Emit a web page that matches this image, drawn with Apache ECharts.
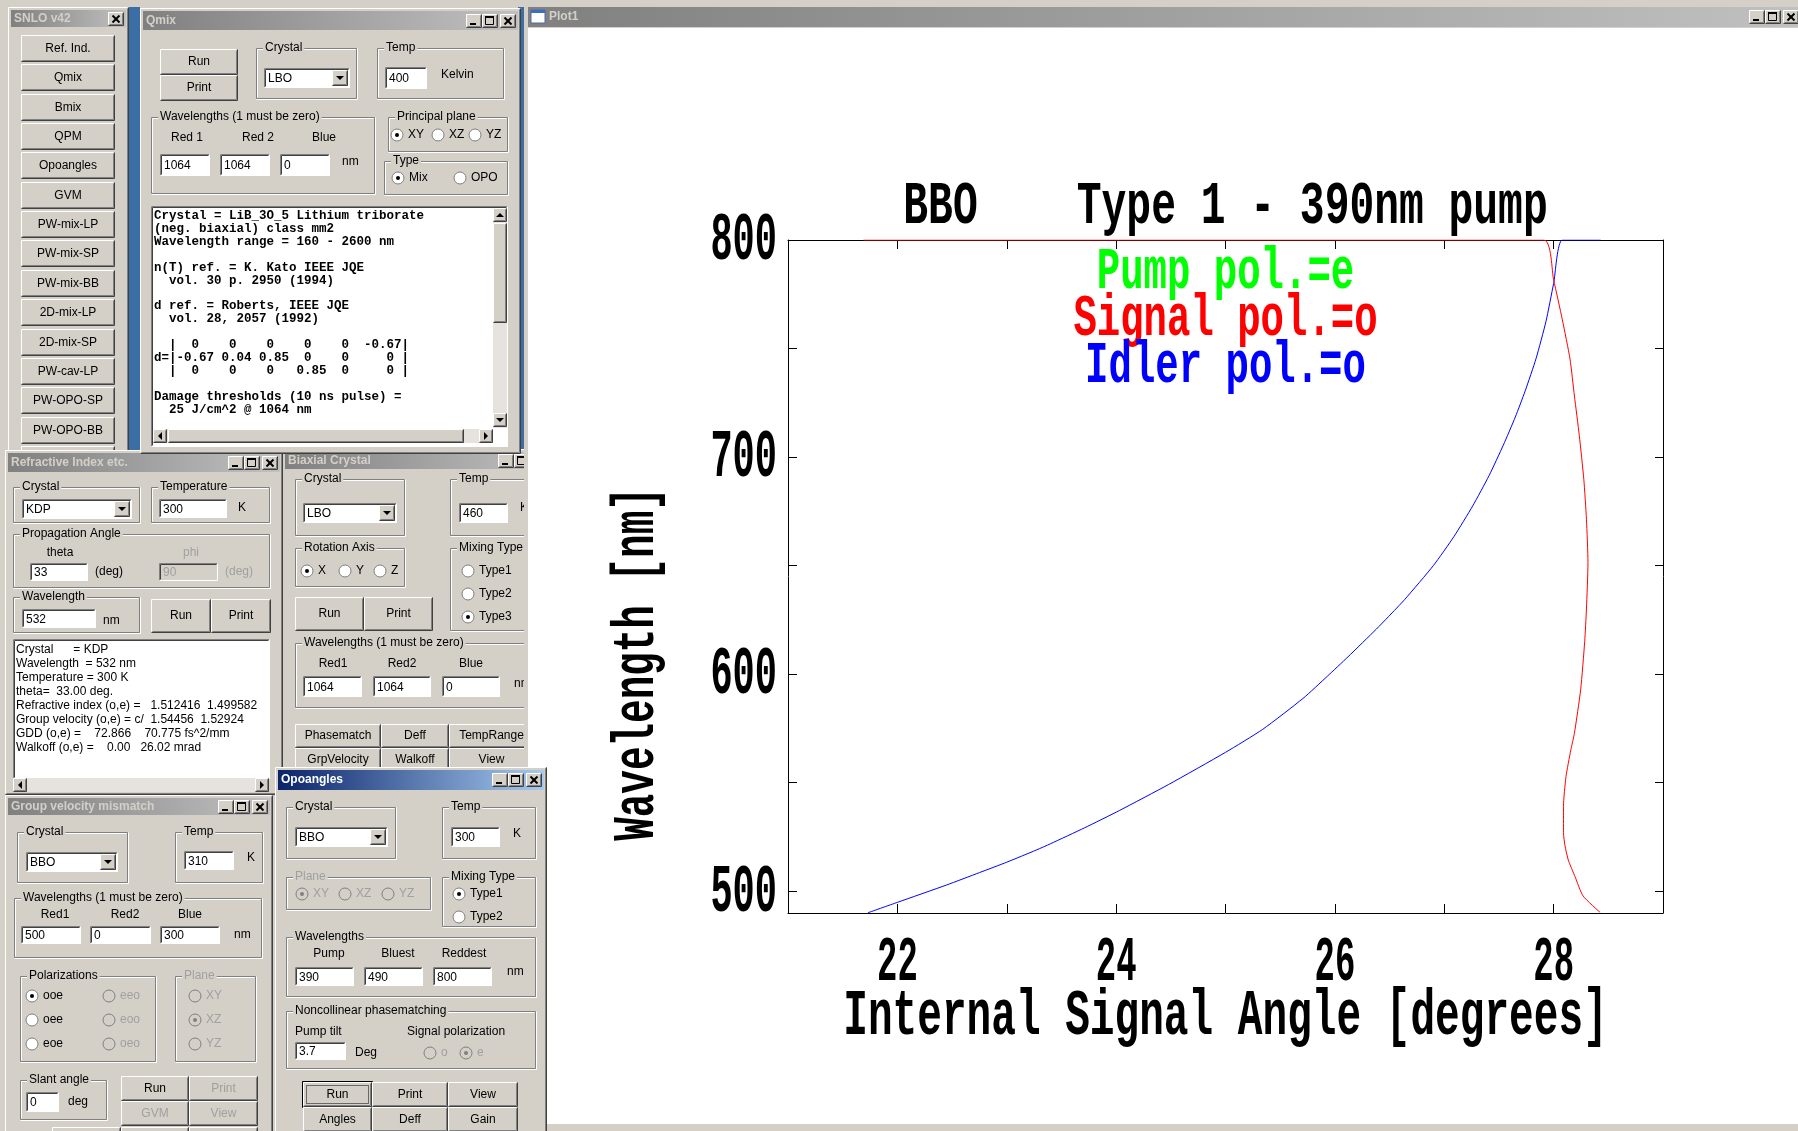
<!DOCTYPE html>
<html>
<head>
<meta charset="utf-8">
<title>SNLO Opoangles - BBO Type 1</title>
<script src="https://cdn.jsdelivr.net/npm/echarts@6/dist/echarts.min.js"></script>
<style>
  html, body { margin: 0; padding: 0; background: #fff; }
  #chart { width: 1798px; height: 1131px; }
</style>
</head>
<body>
<div id="chart"></div>
<script>
// plot data
const chartTitle = 'BBO    Type 1 - 390nm pump';
const legendLines = ['Pump pol.=e', 'Signal pol.=o', 'Idler pol.=o'];
const xAxisName = 'Internal Signal Angle [degrees]';
const yAxisName = 'Wavelength [nm]';

const angleTickValues = [22, 23, 24, 25, 26, 27, 28];
const wavelengthTickValues = [500, 550, 600, 650, 700, 750, 800];
const angleLabels = [22, 24, 26, 28];
const wavelengthLabels = [500, 600, 700, 800];

// blue curve
const idlerAngle = [21.73, 22.00, 22.45, 22.75, 23.00, 23.27, 23.40, 23.71, 24.03, 24.48, 25.00, 25.34, 25.71, 25.93, 26.12, 26.38, 26.49, 26.64, 26.90, 27.09, 27.26, 27.41, 27.54, 27.65, 27.74, 27.84, 27.93, 28.00, 28.08, 28.43];
const idlerWavelength = [490.1, 494.9, 502.9, 508.6, 513.4, 519.0, 521.9, 529.2, 537.2, 549.2, 564.0, 574.6, 588.9, 599.0, 608.0, 620.8, 626.5, 634.5, 650.0, 663.5, 677.5, 691.5, 705.5, 718.5, 730.5, 745.5, 762.5, 780.0, 800, 800];

// red curve
const signalAngle = [21.69, 27.91, 28.00, 28.08, 28.15, 28.19, 28.235, 28.276, 28.30, 28.314, 28.30, 28.284, 28.247, 28.19, 28.157, 28.113, 28.09, 28.09, 28.104, 28.134, 28.196, 28.27, 28.425];
const signalWavelength = [800, 800, 781.6, 763.2, 745.1, 728.2, 709.8, 689.8, 671.4, 651.4, 630, 615, 592.8, 572.8, 565, 552.8, 539, 527, 521, 514.4, 506.7, 497.8, 490.3];

const snloButtons = ['Ref. Ind.', 'Qmix', 'Bmix', 'QPM', 'Opoangles', 'GVM', 'PW-mix-LP', 'PW-mix-SP', 'PW-mix-BB', '2D-mix-LP', '2D-mix-SP', 'PW-cav-LP', 'PW-OPO-SP', 'PW-OPO-BB', ''];
const qmixLines = [
  'Crystal = LiB_3O_5 Lithium triborate',
  '(neg. biaxial) class mm2',
  'Wavelength range = 160 - 2600 nm',
  '',
  'n(T) ref. = K. Kato IEEE JQE',
  '  vol. 30 p. 2950 (1994)',
  '',
  'd ref. = Roberts, IEEE JQE',
  '  vol. 28, 2057 (1992)',
  '',
  '  |  0    0    0    0    0  -0.67|',
  'd=|-0.67 0.04 0.85  0    0     0 |',
  '  |  0    0    0   0.85  0     0 |',
  '',
  'Damage thresholds (10 ns pulse) =',
  '  25 J/cm^2 @ 1064 nm'
];
const refIndexLines = [
  'Crystal      = KDP',
  'Wavelength  = 532 nm',
  'Temperature = 300 K',
  'theta=  33.00 deg.',
  'Refractive index (o,e) =   1.512416  1.499582',
  'Group velocity (o,e) = c/  1.54456  1.52924',
  'GDD (o,e) =    72.866    70.775 fs^2/mm',
  'Walkoff (o,e) =    0.00   26.02 mrad'
];

const zip = (a, b) => a.map((v, i) => [v, b[i]]);

// ---------- windows desktop drawn with graphic elements ----------
const FACE = '#d4d0c8';
const DIS = '#a0a0a0';
const UIF = '"Liberation Sans", Arial, sans-serif';
const ui = [];

function R(x, y, w, h, fill, stroke) {
  ui.push({ type: 'rect', z: -10, silent: true,
    shape: { x: Math.round(x), y: Math.round(y), width: Math.round(w), height: Math.round(h) },
    style: { fill: fill, stroke: stroke || null, lineWidth: 1 } });
}
function L(x1, y1, x2, y2, c, w) {
  ui.push({ type: 'line', z: -10, silent: true,
    shape: { x1: Math.round(x1) + .5, y1: Math.round(y1) + .5, x2: Math.round(x2) + .5, y2: Math.round(y2) + .5 },
    style: { stroke: c, lineWidth: w || 1 } });
}
function T(x, y, s, o) {
  o = o || {};
  const st = { text: s, font: (o.bold ? 'bold ' : '') + (o.size || 12) + 'px ' + (o.family || UIF),
    fill: o.color || '#000', align: o.align || 'left', verticalAlign: 'middle' };
  if (o.bg) { st.backgroundColor = o.bg; st.padding = [0, 2]; }
  ui.push({ type: 'text', z: -10, silent: true, x: x, y: y, style: st });
}
function tri(cx, cy, dir, c) {
  const p = dir === 'down' ? [[cx - 4, cy - 2], [cx + 4, cy - 2], [cx, cy + 2]]
    : dir === 'up' ? [[cx - 4, cy + 2], [cx + 4, cy + 2], [cx, cy - 2]]
    : dir === 'left' ? [[cx + 2, cy - 4], [cx + 2, cy + 4], [cx - 2, cy]]
    : [[cx - 2, cy - 4], [cx - 2, cy + 4], [cx + 2, cy]];
  ui.push({ type: 'polygon', z: -10, silent: true, shape: { points: p }, style: { fill: c || '#000' } });
}
function bevel(x, y, w, h) {
  x = Math.round(x); y = Math.round(y); w = Math.round(w); h = Math.round(h);
  L(x, y, x + w - 2, y, '#fff'); L(x, y, x, y + h - 2, '#fff');
  L(x, y + h - 1, x + w - 1, y + h - 1, '#404040'); L(x + w - 1, y, x + w - 1, y + h - 1, '#404040');
  L(x + 1, y + h - 2, x + w - 2, y + h - 2, '#808080'); L(x + w - 2, y + 1, x + w - 2, y + h - 2, '#808080');
}
function sunken(x, y, w, h) {
  x = Math.round(x); y = Math.round(y); w = Math.round(w); h = Math.round(h);
  L(x, y, x + w - 1, y, '#808080'); L(x, y, x, y + h - 1, '#808080');
  L(x + 1, y + 1, x + w - 2, y + 1, '#404040'); L(x + 1, y + 1, x + 1, y + h - 2, '#404040');
  L(x, y + h - 1, x + w - 1, y + h - 1, '#fff'); L(x + w - 1, y, x + w - 1, y + h - 1, '#fff');
}
function btn(x, y, w, h, label, dis) {
  R(x, y, w, h, FACE); bevel(x, y, w, h);
  if (label) T(x + w / 2, y + h / 2, label, { align: 'center', color: dis ? DIS : '#000' });
}
function capBtn(x, y, kind) {
  R(x, y, 16, 14, FACE); bevel(x, y, 16, 14);
  if (kind === 'min') R(x + 4, y + 9, 6, 2, '#000');
  else if (kind === 'max') { R(x + 3, y + 2, 9, 2, '#000'); L(x + 3, y + 2, x + 3, y + 10, '#000'); L(x + 11, y + 2, x + 11, y + 10, '#000'); L(x + 3, y + 10, x + 11, y + 10, '#000'); }
  else { L(x + 4, y + 3, x + 11, y + 10, '#000', 2); L(x + 11, y + 3, x + 4, y + 10, '#000', 2); }
}
function grad(active) {
  return new echarts.graphic.LinearGradient(0, 0, 1, 0, active
    ? [{ offset: 0, color: '#0a246a' }, { offset: 1, color: '#a6caf0' }]
    : [{ offset: 0, color: '#808080' }, { offset: 1, color: '#c0c0c0' }]);
}
function win(x, y, w, h, title, active, tb, mode) {
  R(x, y, w, h, FACE); bevel(x, y, w, h);
  R(x + 3, y + 3, w - 6, tb, grad(active));
  T(x + 6, y + 3 + tb / 2, title, { bold: true, size: 12, color: active ? '#fff' : '#d4d0c8' });
  const by = y + 3 + Math.round((tb - 14) / 2);
  const cx = x + w - 5 - 16;
  capBtn(cx, by, 'close');
  if (mode === 'all') { capBtn(cx - 18, by, 'max'); capBtn(cx - 34, by, 'min'); }
}
function grp(x, y, w, h, label, dis) {
  L(x, y, x + w - 1, y, '#808080'); L(x, y, x, y + h - 1, '#808080');
  L(x, y + h - 1, x + w - 1, y + h - 1, '#808080'); L(x + w - 1, y, x + w - 1, y + h - 1, '#808080');
  L(x + 1, y + 1, x + w - 2, y + 1, '#fff'); L(x + 1, y + 1, x + 1, y + h - 2, '#fff');
  L(x, y + h, x + w, y + h, '#fff'); L(x + w, y, x + w, y + h, '#fff');
  T(x + 7, y, label, { bg: FACE, color: dis ? DIS : '#000' });
}
function edit(x, y, w, h, val, dis) {
  R(x, y, w, h, dis ? FACE : '#fff'); sunken(x, y, w, h);
  if (val !== undefined) T(x + 4, y + h / 2 + 1, val, { color: dis ? DIS : '#000' });
}
function combo(x, y, w, h, val) {
  edit(x, y, w, h, val);
  btn(x + w - 18, y + 2, 16, h - 4);
  tri(x + w - 10, y + h / 2, 'down');
}
function radio(cx, cy, label, checked, dis) {
  ui.push({ type: 'circle', z: -10, silent: true, shape: { cx: cx, cy: cy, r: 6 },
    style: { fill: dis ? FACE : '#fff', stroke: '#808080', lineWidth: 1 } });
  if (checked) ui.push({ type: 'circle', z: -10, silent: true, shape: { cx: cx, cy: cy, r: 2 }, style: { fill: dis ? '#808080' : '#000' } });
  T(cx + 11, cy, label, { color: dis ? DIS : '#000' });
}
function hscroll(x, y, w) {
  R(x, y, w, 14, '#e6e3de');
  btn(x, y, 14, 14); tri(x + 7, y + 7, 'left');
  btn(x + w - 14, y, 14, 14); tri(x + w - 7, y + 7, 'right');
}

// desktop
R(0, 0, 1798, 1131, FACE);
R(128, 7, 12, 447, '#3a6ea5');
R(518, 7, 8, 447, '#3a6ea5');

// SNLO v42
win(8, 7, 121, 455, 'SNLO v42', false, 17, 'close');
snloButtons.forEach((b, i) => btn(21, Math.round(35 + i * 29.35), 94, 27, b));

// Biaxial Crystal
win(282, 449, 271, 345, 'Biaxial Crystal', false, 17, 'all');
grp(295, 479, 110, 57, 'Crystal'); combo(303, 503, 94, 20, 'LBO');
grp(450, 479, 95, 57, 'Temp'); edit(459, 503, 49, 20, '460'); T(520, 508, 'K');
grp(295, 548, 110, 39, 'Rotation Axis');
radio(307, 571, 'X', true); radio(345, 571, 'Y'); radio(380, 571, 'Z');
grp(450, 548, 95, 83, 'Mixing Type');
radio(468, 571, 'Type1'); radio(468, 594, 'Type2'); radio(468, 617, 'Type3', true);
btn(295, 597, 69, 34, 'Run'); btn(364, 597, 69, 34, 'Print');
grp(295, 643, 250, 65, 'Wavelengths (1 must be zero)');
T(333, 664, 'Red1', { align: 'center' }); T(402, 664, 'Red2', { align: 'center' }); T(471, 664, 'Blue', { align: 'center' });
edit(303, 676, 59, 21, '1064'); edit(373, 676, 58, 21, '1064'); edit(442, 676, 58, 21, '0'); T(514, 684, 'nm');
btn(295, 724, 86, 24, 'Phasematch'); btn(381, 724, 68, 24, 'Deff'); btn(449, 724, 85, 24, 'TempRange');
btn(295, 748, 86, 24, 'GrpVelocity'); btn(381, 748, 68, 24, 'Walkoff'); btn(449, 748, 85, 24, 'View');

// Refractive Index etc.
win(5, 450, 278, 345, 'Refractive Index etc.', false, 19, 'all');
grp(13, 487, 127, 36, 'Crystal'); combo(22, 499, 110, 20, 'KDP');
grp(151, 487, 119, 36, 'Temperature'); edit(159, 499, 68, 19, '300'); T(238, 508, 'K');
grp(13, 534, 257, 54, 'Propagation Angle');
T(60, 553, 'theta', { align: 'center' }); T(191, 553, 'phi', { align: 'center', color: DIS });
edit(30, 563, 58, 18, '33'); T(95, 572, '(deg)');
edit(159, 563, 59, 18, '90', true); T(225, 572, '(deg)', { color: DIS });
grp(13, 597, 127, 36, 'Wavelength'); edit(22, 609, 74, 19, '532'); T(103, 621, 'nm');
btn(151, 599, 60, 34, 'Run'); btn(211, 599, 60, 34, 'Print');
edit(13, 639, 257, 140);
refIndexLines.forEach((s, i) => T(16, 650 + i * 14, s));
hscroll(13, 778, 256);

// Qmix
win(140, 8, 381, 446, 'Qmix', false, 19, 'all');
btn(160, 49, 78, 26, 'Run'); btn(160, 75, 78, 26, 'Print');
grp(256, 48, 101, 51, 'Crystal'); combo(264, 68, 86, 20, 'LBO');
grp(377, 48, 127, 51, 'Temp'); edit(385, 67, 42, 22, '400'); T(441, 75, 'Kelvin');
grp(151, 117, 224, 77, 'Wavelengths (1 must be zero)');
T(187, 138, 'Red 1', { align: 'center' }); T(258, 138, 'Red 2', { align: 'center' }); T(324, 138, 'Blue', { align: 'center' });
edit(160, 154, 50, 22, '1064'); edit(220, 154, 50, 22, '1064'); edit(280, 154, 50, 22, '0'); T(342, 162, 'nm');
grp(388, 117, 120, 35, 'Principal plane');
radio(397, 135, 'XY', true); radio(438, 135, 'XZ'); radio(475, 135, 'YZ');
grp(384, 161, 124, 34, 'Type'); radio(398, 178, 'Mix', true); radio(460, 178, 'OPO');
edit(151, 206, 357, 241);
qmixLines.forEach((s, i) => T(154, 216 + i * 12.9, s, { family: '"Liberation Mono", monospace', size: 12.5, bold: true }));
R(493, 208, 14, 220, '#e6e3de');
btn(493, 208, 14, 14); tri(500, 215, 'up');
btn(493, 223, 14, 100);
btn(493, 413, 14, 14); tri(500, 420, 'down');
hscroll(153, 429, 340);
btn(168, 429, 296, 14);

// Group velocity mismatch
win(5, 795, 268, 345, 'Group velocity mismatch', false, 17, 'all');
grp(17, 832, 111, 51, 'Crystal'); combo(26, 852, 92, 20, 'BBO');
grp(175, 832, 88, 51, 'Temp'); edit(184, 851, 50, 19, '310'); T(247, 858, 'K');
grp(14, 898, 248, 60, 'Wavelengths (1 must be zero)');
T(55, 915, 'Red1', { align: 'center' }); T(125, 915, 'Red2', { align: 'center' }); T(190, 915, 'Blue', { align: 'center' });
edit(21, 926, 60, 18, '500'); edit(90, 926, 61, 18, '0'); edit(160, 926, 60, 18, '300'); T(234, 935, 'nm');
grp(20, 976, 136, 86, 'Polarizations');
radio(32, 996, 'ooe', true); radio(32, 1020, 'oee'); radio(32, 1044, 'eoe');
radio(109, 996, 'eeo', false, true); radio(109, 1020, 'eoo', false, true); radio(109, 1044, 'oeo', false, true);
grp(175, 976, 81, 86, 'Plane', true);
radio(195, 996, 'XY', false, true); radio(195, 1020, 'XZ', true, true); radio(195, 1044, 'YZ', false, true);
grp(20, 1080, 87, 40, 'Slant angle'); edit(26, 1092, 33, 20, '0'); T(68, 1102, 'deg');
btn(121, 1076, 68, 25, 'Run'); btn(189, 1076, 69, 25, 'Print', true);
btn(121, 1101, 68, 25, 'GVM', true); btn(189, 1101, 69, 25, 'View', true);
btn(52, 1127, 69, 20); btn(121, 1127, 68, 20); btn(189, 1127, 69, 20);

// Plot1 frame
R(524, 0, 1274, 1131, FACE);
R(528, 7, 1270, 20, grad(false));
R(531, 10, 14, 13, '#fff', '#4a6ea8'); R(531, 10, 14, 3, '#3a6ec8');
T(549, 17, 'Plot1', { bold: true, color: '#d4d0c8' });
capBtn(1749, 10, 'min'); capBtn(1765, 10, 'max'); capBtn(1783, 10, 'close');
R(528, 28, 1270, 1096, '#fff');

// Opoangles (active, on top)
win(275, 767, 272, 370, 'Opoangles', true, 20, 'all');
grp(286, 807, 110, 52, 'Crystal'); combo(295, 827, 93, 20, 'BBO');
grp(442, 807, 94, 52, 'Temp'); edit(451, 827, 49, 20, '300'); T(513, 834, 'K');
grp(286, 877, 145, 33, 'Plane', true);
radio(302, 894, 'XY', true, true); radio(345, 894, 'XZ', false, true); radio(388, 894, 'YZ', false, true);
grp(442, 877, 94, 50, 'Mixing Type'); radio(459, 894, 'Type1', true); radio(459, 917, 'Type2');
grp(286, 937, 250, 60, 'Wavelengths');
T(329, 954, 'Pump', { align: 'center' }); T(398, 954, 'Bluest', { align: 'center' }); T(464, 954, 'Reddest', { align: 'center' });
edit(295, 967, 59, 19, '390'); edit(364, 967, 59, 19, '490'); edit(433, 967, 59, 19, '800'); T(507, 972, 'nm');
grp(286, 1011, 250, 58, 'Noncollinear phasematching');
T(295, 1032, 'Pump tilt'); T(407, 1032, 'Signal polarization');
edit(295, 1042, 51, 18, '3.7'); T(355, 1053, 'Deg');
radio(430, 1053, 'o', false, true); radio(466, 1053, 'e', true, true);
btn(303, 1082, 69, 25, 'Run');
ui.push({ type: 'rect', z: -10, silent: true, shape: { x: 302.5, y: 1081.5, width: 70, height: 26 }, style: { fill: null, stroke: '#000' } });
ui.push({ type: 'rect', z: -10, silent: true, shape: { x: 306.5, y: 1085.5, width: 62, height: 18 }, style: { fill: null, stroke: '#000', lineDash: [1, 1] } });
btn(372, 1082, 76, 25, 'Print'); btn(448, 1082, 70, 25, 'View');
btn(303, 1107, 69, 25, 'Angles'); btn(372, 1107, 76, 25, 'Deff'); btn(448, 1107, 70, 25, 'Gain');

// ---------- the plot ----------
const chart = echarts.init(document.getElementById('chart'), null, { renderer: 'canvas' });

const axisCommon = {
  type: 'value',
  axisLine: { show: true, onZero: false, lineStyle: { color: '#000', width: 1 } },
  axisLabel: { show: false },
  splitLine: { show: false },
  axisPointer: { show: false }
};

const option = {
  animation: false,
  backgroundColor: 'transparent',
  grid: { left: 788, top: 240, width: 875, height: 673, show: false },
  xAxis: [
    Object.assign({}, axisCommon, { min: 21, max: 29, position: 'bottom',
      axisTick: { show: true, inside: true, length: 9, customValues: angleTickValues, lineStyle: { color: '#000' } } }),
    Object.assign({}, axisCommon, { min: 21, max: 29, position: 'top',
      axisTick: { show: true, inside: true, length: 9, customValues: angleTickValues, lineStyle: { color: '#000' } } })
  ],
  yAxis: [
    Object.assign({}, axisCommon, { min: 490, max: 800, position: 'left',
      axisTick: { show: true, inside: true, length: 9, customValues: wavelengthTickValues, lineStyle: { color: '#000' } } }),
    Object.assign({}, axisCommon, { min: 490, max: 800, position: 'right',
      axisTick: { show: true, inside: true, length: 8, customValues: wavelengthTickValues, lineStyle: { color: '#000' } } })
  ],
  series: [
    { name: 'Idler', type: 'line', data: zip(idlerAngle, idlerWavelength), showSymbol: false, clip: true,
      smooth: 0.2,
      lineStyle: { color: '#0000ff', width: 1 }, itemStyle: { color: '#0000ff' }, silent: true },
    { name: 'Signal', type: 'line', data: zip(signalAngle, signalWavelength), showSymbol: false, clip: true,
      smooth: 0.2,
      lineStyle: { color: '#ff0000', width: 1 }, itemStyle: { color: '#ff0000' }, silent: true }
  ]
};
chart.setOption(option);

// stretched plot texts, placed through the axes
function bigText(s, x, y, size, sy, color, align, rot) {
  return { type: 'text', x: x, y: y, rotation: rot || 0, scaleY: sy, silent: true, z: 10,
    style: { text: s, font: 'bold ' + size + 'px "Liberation Mono", monospace', fill: color, align: align || 'center', verticalAlign: 'middle' } };
}
const px = (a, w) => chart.convertToPixel({ xAxisIndex: 0, yAxisIndex: 0 }, [a, w]);
const gridLeft = px(21, 490)[0], gridRight = px(29, 490)[0];
const gridTop = px(21, 800)[1], gridBottom = px(21, 490)[1];
const midX = (gridLeft + gridRight) / 2;

const texts = [];
texts.push(bigText(chartTitle, midX, gridTop - 32, 41.3, 1.48, '#000'));
const legendColors = ['#00ff00', '#ff0000', '#0000ff'];
legendLines.forEach((s, i) => texts.push(bigText(s, midX, gridTop + 33 + i * 47, 39, 1.5, legendColors[i])));
texts.push(bigText(xAxisName, midX, gridBottom + 105, 41.1, 1.59, '#000'));
texts.push(bigText(yAxisName, gridLeft - 150, gridTop + 424, 39.3, 1.5, '#000', 'center', Math.PI / 2));
angleLabels.forEach(v => texts.push(bigText(String(v), px(v, 490)[0], gridBottom + 51, 34, 1.87, '#000')));
wavelengthLabels.forEach(v => texts.push(bigText(String(v), gridLeft - 11, px(21, v)[1] + 2, 37, 1.85, '#000', 'right')));

chart.setOption({ graphic: { elements: ui.concat(texts) } });
</script>
</body>
</html>
